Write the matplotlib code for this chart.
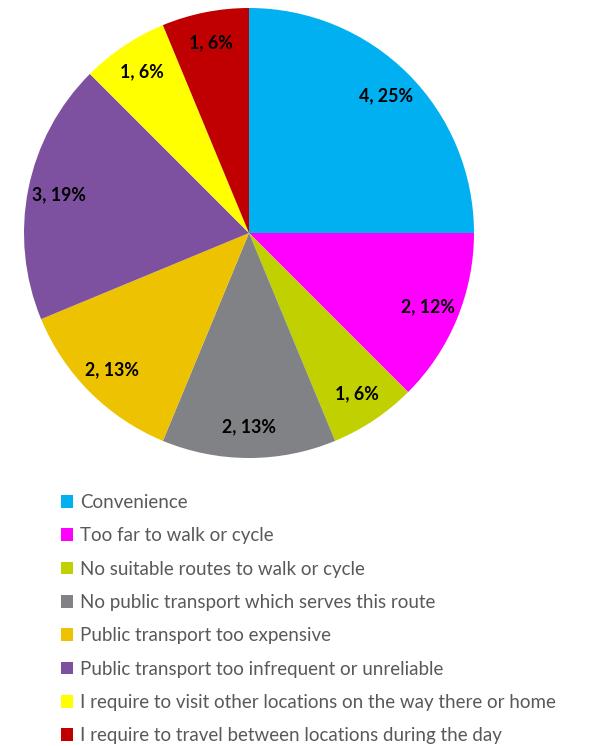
import matplotlib.pyplot as plt
from matplotlib.patches import Patch

# survey answers: reason for driving
reasons = [
    "Convenience",
    "Too far to walk or cycle",
    "No suitable routes to walk or cycle",
    "No public transport which serves this route",
    "Public transport too expensive",
    "Public transport too infrequent or unreliable",
    "I require to visit other locations on the way there or home",
    "I require to travel between locations during the day",
]
counts = [4, 2, 1, 2, 2, 3, 1, 1]
pct_labels = ["25%", "12%", "6%", "13%", "13%", "19%", "6%", "6%"]
colors = ["#00B0F0", "#FF00FF", "#C0D000", "#808285",
          "#EDC200", "#7D51A0", "#FFFF00", "#C00000"]

plt.rcParams['font.family'] = ['Lato', 'DejaVu Sans']

fig = plt.figure(figsize=(6.14, 7.46), dpi=100)
ax = fig.add_axes([24 / 614, 1 - 458 / 746, 450 / 614, 450 / 746])

labels = [f"{c}, {p}" for c, p in zip(counts, pct_labels)]
wedges, texts = ax.pie(counts, colors=colors, startangle=90, counterclock=False,
                       labels=labels, labeldistance=0.86, radius=1,
                       wedgeprops=dict(linewidth=0))
for t in texts:
    t.set_ha('center')
    t.set_va('center')
    t.set_fontsize(12.8)
    t.set_fontweight('bold')
    t.set_color('black')
ax.set_xlim(-1, 1)
ax.set_ylim(-1, 1)
ax.set_aspect('equal')

handles = [Patch(facecolor=c, edgecolor='none') for c in colors]
leg = fig.legend(handles, reasons, loc='upper left',
                 bbox_to_anchor=(61 / 614, 1 - 494 / 746),
                 frameon=False, fontsize=13.5, handlelength=0.65, handleheight=0.65,
                 handletextpad=0.35, labelspacing=0.87, borderpad=0, borderaxespad=0)
for t in leg.get_texts():
    t.set_color('#595959')

plt.savefig("out.png", dpi=100)
plt.close()
